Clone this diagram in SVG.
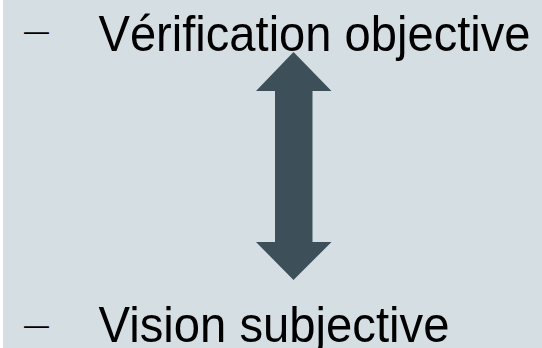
<svg xmlns="http://www.w3.org/2000/svg" width="542" height="348" viewBox="0 0 542 348">
  <style>
    .label { font-family: "Liberation Sans", Arial, sans-serif; font-size: 49.5px; fill: #000; }
    .dash { font-family: "Liberation Sans", Arial, sans-serif; font-size: 27px; fill: #000; }
    .arrow { fill: #3D505A; }
  </style>
  <rect x="0" y="0" width="542" height="348" fill="#FFFFFF"/>
  <rect x="3" y="0" width="539" height="348" fill="#D5DEE3"/>

  <g id="top-item">
    <text class="dash" x="24" y="40" textLength="25" lengthAdjust="spacingAndGlyphs">–</text>
    <text class="label" x="98.5" y="51" textLength="432" lengthAdjust="spacingAndGlyphs">Vérification objective</text>
  </g>

  <g id="bottom-item">
    <text class="dash" x="24" y="334" textLength="25" lengthAdjust="spacingAndGlyphs">–</text>
    <text class="label" x="98.5" y="341.5" textLength="351" lengthAdjust="spacingAndGlyphs">Vision subjective</text>
  </g>

  <g id="connectors">
    <polygon class="arrow" points="293.5,52 331.5,91 312.5,91 312.5,242 331.5,242 293.5,280 256,242 275,242 275,91 256,91"/>
  </g>
</svg>
